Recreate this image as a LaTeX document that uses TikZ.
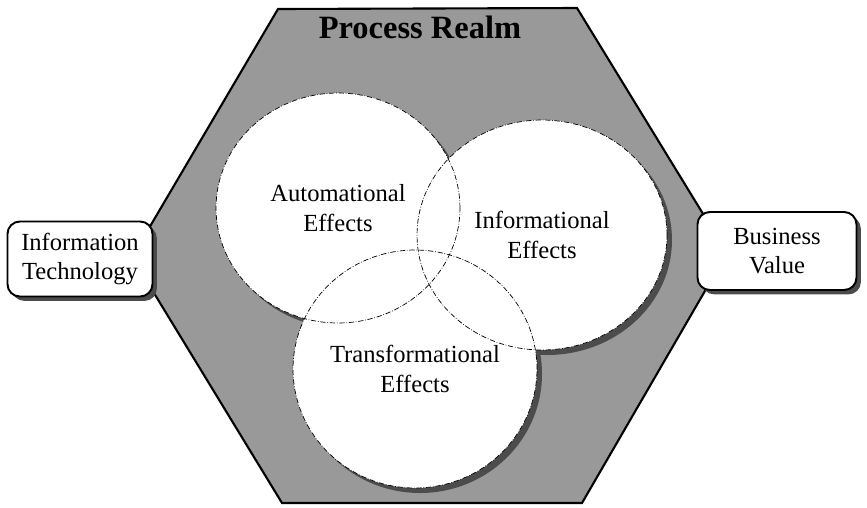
\documentclass[tikz,border=0pt]{standalone}
\usepackage{fontspec}
\setmainfont{Liberation Serif}
\usetikzlibrary{positioning, shapes.geometric, shadows}
\tikzset{%
  % Specifications for style of nodes:
    base/.style = {rectangle, rounded corners=7pt, draw=black, line width=1.1pt, fill=white,
                   text centered, align=center, font=\fontsize{14}{17}\selectfont},
    sideBox/.style = {base, minimum height=1.5cm, inner sep=2pt,
                   drop shadow={shadow xshift=2.5pt, shadow yshift=-2.5pt, fill=black!70, opacity=1}},
    effect/.style = {ellipse, draw=black, densely dash dot, thin, inner sep=0pt,
                   align=center, font=\fontsize{14}{17}\selectfont},
    realm/.style = {draw=black, line width=1.2pt, fill=black!40, line join=miter},
    realmTitle/.style = {font=\fontsize{18.5}{22}\selectfont\bfseries},
}
\begin{document}
\begin{tikzpicture}[x=0.02cm, y=-0.02cm]
  \useasboundingbox (0,0) rectangle (867,508);
  % Corners of the hexagon
  \coordinate (hexTL) at (278,9);
  \coordinate (hexTR) at (577,8);
  \coordinate (hexR)  at (727,253);
  \coordinate (hexBR) at (582,503);
  \coordinate (hexBL) at (282,503);
  \coordinate (hexL)  at (132,257);
  \draw[realm] (hexTL) -- (hexTR) -- (hexR) -- (hexBR) -- (hexBL) -- (hexL) -- cycle;
  \node (processRealm) [realmTitle] at (420,27) {Process Realm};

  % Shadows and fills of the three effects
  \foreach \cx/\cy/\rx/\ry in {338/208/122/115, 542/235/125/115, 415/369/122/119}
    \fill[black!70] (\cx+5,\cy+5) ellipse [x radius=\rx, y radius=\ry];
  \foreach \cx/\cy/\rx/\ry in {338/208/122/115, 542/235/125/115, 415/369/122/119}
    \fill[white] (\cx,\cy) ellipse [x radius=\rx, y radius=\ry];

  \node (automEffects) [effect, minimum width=4.88cm, minimum height=4.6cm] at (338,208)
                                                                {Automational\\Effects};
  \node (inforEffects) [effect, minimum width=5cm, minimum height=4.6cm] at (542,235)
                                                                {Informational\\Effects};
  \node (transEffects) [effect, minimum width=4.88cm, minimum height=4.76cm] at (415,369)
                                                                {Transformational\\Effects};

  \node (infoTech) [sideBox, minimum width=2.9cm] at (80,259) {Information\\Technology};
  \node (busValue) [sideBox, minimum width=3.18cm, minimum height=1.56cm] at (777,251)
                                                                {Business\\Value};
\end{tikzpicture}
\end{document}
